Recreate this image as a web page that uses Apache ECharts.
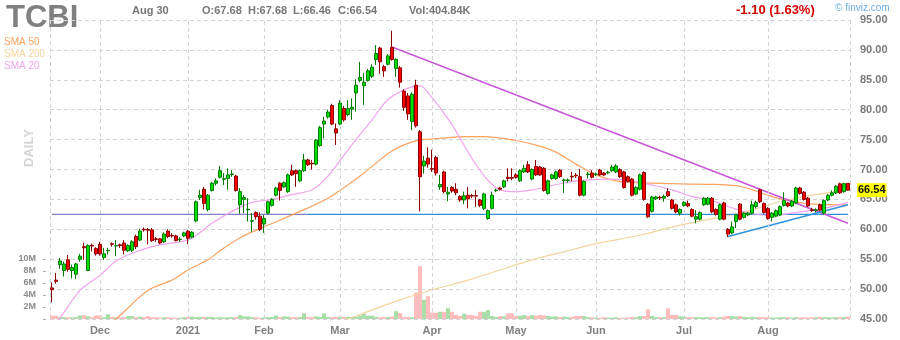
<!DOCTYPE html>
<html><head><meta charset="utf-8">
<script src="https://cdn.jsdelivr.net/npm/echarts@6/dist/echarts.min.js"></script>
<style>html,body{margin:0;padding:0;background:#fff}#c{width:900px;height:340px}</style>
</head><body><div id="c"></div><script>
const ticker = 'TCBI';
const startDate = '2020-11-12', endDate = '2021-08-30';
const holidays = ['2020-11-26','2020-12-25','2021-01-01','2021-01-18','2021-02-15','2021-04-02','2021-05-31','2021-07-05'];
const monthNames = ['Jan','Feb','Mar','Apr','May','Jun','Jul','Aug','Sep','Oct','Nov','Dec'];

const open = [50.2,51.5,54.1,53.1,54.9,53.1,52.5,55.0,57.1,53.1,
57.3,56.8,57.5,55.3,56.4,57.6,57.2,57.4,57.7,56.4,
56.5,58.8,58.2,60.0,59.95,59.9,58.4,58.4,57.9,59.7,
59.0,58.9,58.25,58.9,59.7,58.7,61.4,65.3,66.7,63.3,
66.5,67.7,68.7,68.35,68.5,69.15,68.9,64.1,65.0,63.25,
61.35,62.8,62.2,60.9,62.7,64.0,65.7,67.7,67.1,66.3,
69.8,69.8,68.1,69.8,71.6,71.05,70.9,74.0,77.6,78.8,
80.7,76.8,77.6,80.2,79.2,80.1,82.8,84.9,84.0,84.9,
85.6,88.4,90.3,87.2,87.6,90.4,86.9,87.0,83.1,82.3,
78.0,84.1,76.3,70.6,71.9,70.15,72.0,67.1,69.6,65.9,
67.0,66.7,65.5,64.9,65.7,65.65,65.65,64.9,63.5,61.8,
63.5,66.45,66.9,67.1,68.7,68.65,69.1,68.1,69.6,70.8,
68.4,70.5,70.4,70.2,66.0,68.5,68.5,69.9,68.15,68.15,
68.85,69.05,68.8,65.7,69.15,69.4,69.15,69.9,69.4,69.45,
69.8,69.6,70.0,69.6,68.8,68.4,65.9,66.7,69.5,64.2,
63.0,65.1,65.35,65.2,66.3,64.9,64.1,62.7,64.0,64.3,
63.3,61.7,61.7,64.1,64.2,65.2,63.3,61.7,64.4,60.0,
59.4,61.3,64.2,62.0,62.4,62.7,63.8,66.6,64.3,63.5,
62.0,62.2,62.4,64.0,64.4,63.9,64.4,66.9,66.2,65.2,
63.25,63.15,64.1,62.7,64.9,65.7,66.1,67.6,66.3,67.68];
const close = [49.9,51.3,54.7,54.2,53.3,53.6,54.2,55.5,56.9,57.3,
57.2,55.9,55.9,55.9,56.5,57.5,57.3,57.3,56.5,57.3,
57.9,57.1,59.7,59.9,59.85,58.1,58.3,57.7,59.2,58.8,
58.9,58.1,58.35,59.4,58.5,59.5,64.6,65.7,64.3,65.7,
67.7,68.1,69.8,68.45,69.1,69.25,66.5,66.3,65.3,63.35,
61.45,62.1,60.0,61.8,64.6,65.0,66.9,66.5,67.8,69.1,
69.1,69.3,69.8,71.6,70.8,70.95,74.9,77.0,78.1,79.6,
77.6,76.1,81.1,78.3,80.2,80.4,84.1,85.4,84.6,86.5,
87.1,89.4,88.0,86.5,89.0,88.4,88.4,84.6,80.4,79.3,
82.6,77.3,68.8,71.4,70.9,70.05,69.4,67.5,66.3,66.2,
66.4,66.1,64.9,65.6,65.1,65.55,65.55,64.0,65.9,63.1,
65.7,66.55,66.7,68.1,68.5,68.55,68.7,69.8,70.2,69.6,
70.0,69.1,69.1,66.5,68.1,69.1,69.6,68.8,68.25,68.25,
68.75,68.95,65.7,68.0,69.25,68.7,69.25,69.1,69.1,69.55,
70.4,70.6,68.8,67.0,68.0,65.7,67.0,69.1,65.0,62.1,
65.4,65.4,65.25,65.5,65.6,63.5,62.9,63.3,64.5,63.9,
62.2,62.1,62.8,65.2,65.2,62.9,62.5,64.1,61.7,59.2,
60.4,62.4,61.7,62.7,62.7,64.1,64.5,64.6,62.8,61.8,
62.7,63.1,63.8,64.8,63.9,64.7,66.9,66.0,65.0,63.9,
63.15,63.25,63.2,64.8,65.7,66.1,67.2,66.1,67.64,66.54];
const low = [47.8,50.9,53.4,52.1,52.9,51.8,51.7,54.6,54.9,53.0,
56.3,55.6,55.6,54.9,55.8,57.1,55.5,56.9,55.8,56.2,
56.2,56.7,58.0,59.6,57.5,57.9,57.9,57.5,57.7,58.5,
58.6,58.0,57.9,58.7,57.5,58.5,61.2,64.9,63.3,63.0,
66.3,67.3,68.5,67.4,66.6,68.8,66.3,62.6,62.7,61.3,
59.6,61.6,59.7,59.4,62.5,63.8,65.5,64.8,66.9,66.1,
68.9,67.1,67.9,69.6,70.6,70.0,70.7,73.8,75.2,78.5,
77.4,74.1,77.4,78.0,78.9,78.3,79.7,84.6,80.8,84.7,
85.3,87.5,86.0,85.5,87.4,88.2,85.5,83.7,79.8,78.3,
76.6,77.0,63.0,69.3,70.3,69.6,69.0,66.6,66.0,64.7,
66.1,65.7,64.6,64.2,63.5,65.2,63.8,63.7,63.2,61.6,
63.3,66.2,66.5,66.9,68.0,68.2,68.5,67.9,69.4,69.4,
68.2,68.9,68.9,66.3,65.8,68.3,68.3,68.6,66.1,67.8,
68.0,68.6,65.5,65.5,68.5,68.5,68.9,68.9,68.9,69.2,
69.6,69.4,68.6,66.8,67.8,65.5,65.7,66.5,64.8,61.9,
62.8,64.9,64.9,64.6,65.4,63.3,62.7,62.3,63.8,63.7,
62.0,61.0,61.5,63.9,64.0,62.7,62.3,61.5,61.5,58.7,
59.2,60.2,61.5,61.8,62.2,62.5,63.5,64.4,62.6,61.6,
61.3,62.0,62.2,63.8,63.7,63.7,64.2,65.8,64.8,63.7,
62.9,62.8,63.0,62.5,64.7,65.5,65.9,65.9,66.1,66.46];
const high = [51.1,52.7,55.2,54.6,55.7,54.1,54.4,55.9,57.8,57.5,
57.6,57.0,57.9,56.9,56.9,57.8,58.2,57.6,58.2,57.5,
58.2,59.1,60.1,60.3,60.2,60.2,58.7,58.5,59.5,60.0,
59.3,59.1,58.7,59.6,59.9,59.7,64.8,66.6,67.1,65.9,
67.9,68.5,70.6,69.4,70.2,69.9,69.1,66.9,65.7,65.2,
62.7,63.0,62.8,62.4,64.8,65.2,67.1,67.9,68.0,69.3,
70.8,70.0,70.0,72.6,71.8,71.6,75.1,77.3,78.8,80.0,
81.0,77.7,81.6,80.6,81.6,81.9,85.1,88.0,86.1,86.8,
87.6,90.8,90.5,87.5,89.3,93.2,88.6,87.3,83.4,82.8,
82.9,85.0,76.6,72.3,73.7,73.3,72.3,69.1,69.8,67.1,
67.2,67.7,65.7,66.3,67.1,65.9,66.6,65.1,66.1,63.3,
66.3,66.8,67.1,68.3,70.2,70.2,69.4,70.0,70.8,71.4,
70.2,71.6,70.6,70.4,68.3,69.3,69.8,70.1,68.5,68.5,
69.6,69.4,70.1,68.2,69.6,69.9,69.5,70.1,69.6,69.8,
70.8,70.9,70.2,69.8,69.0,68.6,67.2,69.3,69.7,64.4,
65.6,65.6,65.6,65.8,66.9,65.1,64.3,63.5,64.7,64.8,
63.5,63.2,63.0,65.4,65.4,65.4,63.5,64.3,64.6,60.2,
61.3,62.6,64.4,62.9,62.9,64.8,64.8,66.8,64.5,63.7,
62.9,63.3,64.0,66.2,64.6,64.9,67.1,67.1,66.4,65.4,
63.6,63.5,64.3,65.0,65.9,66.5,67.4,67.8,67.8,67.68];
// volume in millions of shares
const volume = [0.55,0.55,0.35,0.3,0.3,0.25,0.3,0.6,0.65,0.45,0.3,0.6,
0.6,0.3,0.8,0.35,0.3,0.3,0.3,0.5,0.5,0.3,0.4,0.3,0.5,0.3,0.3,0.2,0.3,0.3,0.25,0.2,0.2,0.3,
0.35,0.4,0.35,0.35,0.35,0.35,0.35,0.25,0.3,0.25,0.3,0.3,0.3,0.65,0.45,0.45,0.3,0.3,0.2,
0.3,0.3,0.35,0.6,0.35,0.45,0.4,0.3,0.3,0.35,0.95,0.35,0.3,0.45,0.35,0.95,0.35,0.3,0.35,
0.4,0.35,0.35,0.3,0.35,0.6,0.85,0.55,0.55,0.4,0.3,0.3,0.3,0.4,1.3,1.0,0.35,0.35,0.3,4.4,8.8,3.2,3.8,
1.05,1.05,1.2,1.2,1.8,1.2,0.7,0.5,0.9,0.7,0.7,0.5,1.2,1.2,1.5,0.5,0.35,0.5,0.45,0.95,0.95,
0.5,0.55,0.65,0.5,0.65,0.55,0.7,0.6,0.5,0.4,0.45,0.35,0.4,0.3,0.35,0.5,0.5,0.5,0.3,0.3,
0.25,0.2,0.3,0.25,0.2,0.3,0.2,0.2,0.25,0.35,0.3,0.5,0.5,1.6,0.5,0.3,0.3,0.3,1.8,0.7,0.7,0.45,
0.4,0.3,0.3,0.35,0.3,0.3,0.3,0.3,0.25,0.3,0.4,0.5,0.5,0.45,0.5,0.35,0.3,0.35,0.3,0.35,0.3,
0.3,0.25,0.25,0.3,0.3,0.3,0.25,0.3,0.25,0.3,0.25,0.3,0.3,0.35,0.3,0.3,0.25,0.3,0.3,0.35,0.40484];

// moving averages: [trading-day index, value]
const sma20 = [[1,44.6],[2,45.2],[7,49.8],[12,52.3],[16,54.7],[22,56.5],[27,57.4],[32,57.9],[35,58.5],[40,61.0],[45,63.0],[50,64.5],[55,65.0],[60,65.8],[65,66.6],[69,68.9],[74,73.3],[80,78.3],[84,81.7],[89,83.6],[92,84.0],[95,82.0],[100,77.5],[105,71.8],[109,68.2],[112,66.6],[116,66.3],[120,66.6],[125,67.3],[130,68.0],[135,68.3],[140,68.4],[145,68.1],[150,67.4],[155,66.6],[160,65.5],[165,64.8],[170,63.6],[175,62.6],[180,62.3],[185,62.7],[190,63.2],[195,63.8],[199,64.5]];
const sma50 = [[15,44.7],[16,45.0],[24,49.8],[30,51.5],[34,53.2],[39,54.9],[42,56.4],[47,58.6],[53,60.4],[61,62.7],[69,65.2],[77,68.9],[85,73.1],[91,74.8],[97,75.2],[103,75.5],[108,75.5],[116,74.85],[122,73.9],[126,72.9],[131,70.9],[136,69.1],[141,68.1],[146,67.8],[157,67.6],[166,67.5],[172,67.2],[179,65.7],[182,65.1],[189,64.3],[199,64.1]];
const sma200 = [[73,44.7],[74,45.0],[87,48.2],[95,49.85],[104,51.5],[112,53.2],[120,54.9],[129,56.4],[136,57.6],[147,59.0],[157,60.7],[172,62.7],[182,64.6],[189,65.6],[199,66.6]];
const downTrend = [[85,90.5],[199,61.0]];
const upTrend = [[169,58.8],[199,64.1]];
const supportLevel = 62.5;
const supportSplit = 64; // level line looks violet left of this trading-day index, blue right of it
const priceMin = 45, priceMax = 95, priceStep = 5;
const volMax = 10, volStep = 2;
const changeText = '-1.10 (1.63%)';
const volText = 'Vol:404.84K';

function tradingDays(s, e, hol) {
  const out = []; const d = new Date(s + 'T00:00:00Z'); const end = new Date(e + 'T00:00:00Z');
  while (d <= end) {
    const wd = d.getUTCDay(); const str = d.toISOString().slice(0, 10);
    if (wd !== 0 && wd !== 6 && hol.indexOf(str) < 0) out.push(str);
    d.setUTCDate(d.getUTCDate() + 1);
  }
  return out;
}
const dates = tradingDays(startDate, endDate, holidays);
const monthLabel = {};
dates.forEach((s, i) => {
  if (i === 0) return;
  if (s.slice(5, 7) !== dates[i - 1].slice(5, 7)) {
    const m = +s.slice(5, 7) - 1;
    monthLabel[i] = m === 0 ? s.slice(0, 4) : monthNames[m];
  }
});
const monthIdx = Object.keys(monthLabel).map(Number);

const candles = dates.map((d, i) => [open[i], close[i], low[i], high[i]]);
const volData = dates.map((d, i) => ({
  value: volume[i],
  itemStyle: { color: close[i] >= open[i] ? '#a9dea9' : '#ffbdbd' }
}));
const last = dates.length - 1;
const lastDate = new Date(dates[last] + 'T00:00:00Z');
const headerDate = monthNames[lastDate.getUTCMonth()] + ' ' + lastDate.getUTCDate();

const FONT = 'Arial, "Liberation Sans", sans-serif';
const gridLine = { color: '#d4d4d4', type: [4, 3], width: 1 };

const chart = echarts.init(document.getElementById('c'));
chart.setOption({
  animation: false,
  backgroundColor: '#fff',
  textStyle: { fontFamily: FONT },
  grid: [
    { left: 50, right: 50, top: 20, bottom: 21 },
    { left: 50, right: 50, top: 259, bottom: 21 }
  ],
  xAxis: [
    { type: 'category', gridIndex: 0, data: dates, boundaryGap: true,
      axisLine: { show: false }, axisTick: { show: false }, axisLabel: { show: false }, splitLine: { show: false } },
    { type: 'category', gridIndex: 1, data: dates, boundaryGap: true,
      axisLine: { show: false }, axisTick: { show: false }, splitLine: { show: false },
      axisLabel: { interval: (i) => monthLabel[i] !== undefined, formatter: (v, i) => monthLabel[i] || '',
        color: '#808080', fontSize: 11, fontWeight: 'bold', margin: 6, fontFamily: FONT } },
    { type: 'value', gridIndex: 0, min: 0, max: 1, interval: 1, position: 'top',
      axisLine: { show: false }, axisTick: { show: false }, axisLabel: { show: false },
      splitLine: { show: true, lineStyle: gridLine } }
  ],
  yAxis: [
    { type: 'value', gridIndex: 0, position: 'right', min: priceMin, max: priceMax, interval: priceStep,
      axisLine: { show: false }, axisTick: { show: false },
      axisLabel: { formatter: (v) => v.toFixed(2), color: '#7a7a7a', fontSize: 11, fontWeight: 'bold', margin: 10, fontFamily: FONT },
      splitLine: { show: true, lineStyle: gridLine } },
    { type: 'value', gridIndex: 1, position: 'left', min: 0, max: volMax, interval: volStep, offset: 4,
      axisLine: { show: false }, axisTick: { show: true, length: 3, lineStyle: { color: '#aaa' } },
      axisLabel: { formatter: (v) => v ? v + 'M' : '', color: '#8a8a8a', fontSize: 9, fontWeight: 'bold', margin: 10, fontFamily: FONT },
      splitLine: { show: false } }
  ],
  series: [
    { name: 'Volume', type: 'bar', xAxisIndex: 1, yAxisIndex: 1, data: volData,
      barCategoryGap: '0%', z: 1, silent: true },
    { name: 'SMA 200', type: 'line', xAxisIndex: 0, yAxisIndex: 0, data: sma200, z: 2,
      showSymbol: false, smooth: 0.3, lineStyle: { color: '#f3d49c', width: 1.2 }, silent: true,
      markLine: { silent: true, symbol: 'none', label: { show: false },
        data: monthIdx.map((i) => ({ xAxis: dates[i], lineStyle: gridLine })) } },
    { name: 'Level left', type: 'line', xAxisIndex: 0, yAxisIndex: 0, z: 2, showSymbol: false, silent: true,
      data: [[0, supportLevel], [supportSplit, supportLevel]],
      lineStyle: { color: '#7f80c8', width: 1.3 } },
    { name: 'Level right', type: 'line', xAxisIndex: 0, yAxisIndex: 0, z: 2, showSymbol: false, silent: true,
      data: [[supportSplit, supportLevel], [last, supportLevel]],
      lineStyle: { color: '#2e8fd6', width: 1.3 } },
    { name: 'SMA 50', type: 'line', xAxisIndex: 0, yAxisIndex: 0, data: sma50, z: 3,
      showSymbol: false, smooth: 0.3, lineStyle: { color: '#ffa260', width: 1.2 }, silent: true },
    { name: 'SMA 20', type: 'line', xAxisIndex: 0, yAxisIndex: 0, data: sma20, z: 3,
      showSymbol: false, smooth: 0.3, lineStyle: { color: '#f1a3ef', width: 1.2 }, silent: true },
    { name: 'Down trend', type: 'line', xAxisIndex: 0, yAxisIndex: 0, data: downTrend, z: 4,
      showSymbol: false, lineStyle: { color: '#c757d8', width: 1.6 }, silent: true },
    { name: 'Up trend', type: 'line', xAxisIndex: 0, yAxisIndex: 0, data: upTrend, z: 4,
      showSymbol: false, lineStyle: { color: '#2d95dc', width: 1.6 }, silent: true },
    { name: ticker, type: 'candlestick', xAxisIndex: 0, yAxisIndex: 0, data: candles, z: 5,
      barWidth: 3, silent: true,
      itemStyle: { color: '#00e000', color0: '#ff0000', borderColor: '#007a00', borderColor0: '#8b0000', borderWidth: 1 },
      markLine: { silent: true, symbol: 'none',
        data: [{ yAxis: close[last], lineStyle: { width: 0, color: 'rgba(0,0,0,0)' },
          label: { show: true, position: 'end', distance: 7, formatter: close[last].toFixed(2),
            backgroundColor: '#ffff00', color: '#111', fontWeight: 'bold', fontSize: 11, padding: [2, 1, 1, 1], fontFamily: FONT, opacity: 1 } }] } }
  ],
  graphic: [
    { type: 'text', x: 6, y: 18, silent: true, style: { text: ticker, font: 'bold 31px ' + FONT, fill: '#808080', verticalAlign: 'middle' } },
    { type: 'text', x: 132, y: 11, silent: true, style: { text: headerDate, font: 'bold 11px ' + FONT, fill: '#777', verticalAlign: 'middle' } },
    { type: 'text', x: 202, y: 11, silent: true, style: { text: 'O:' + open[last].toFixed(2), font: 'bold 11px ' + FONT, fill: '#777', verticalAlign: 'middle' } },
    { type: 'text', x: 248, y: 11, silent: true, style: { text: 'H:' + high[last].toFixed(2), font: 'bold 11px ' + FONT, fill: '#777', verticalAlign: 'middle' } },
    { type: 'text', x: 293, y: 11, silent: true, style: { text: 'L:' + low[last].toFixed(2), font: 'bold 11px ' + FONT, fill: '#777', verticalAlign: 'middle' } },
    { type: 'text', x: 338, y: 11, silent: true, style: { text: 'C:' + close[last].toFixed(2), font: 'bold 11px ' + FONT, fill: '#777', verticalAlign: 'middle' } },
    { type: 'text', x: 409, y: 11, silent: true, style: { text: volText, font: 'bold 11px ' + FONT, fill: '#777', verticalAlign: 'middle' } },
    { type: 'text', x: 736, y: 10, silent: true, style: { text: changeText, font: 'bold 13px ' + FONT, fill: '#d40000', verticalAlign: 'middle' } },
    { type: 'text', x: 835, y: 8, silent: true, style: { text: '\u00a9 finviz.com', font: '10px ' + FONT, fill: '#6eaee6', verticalAlign: 'middle' } },
    { type: 'text', x: 4, y: 42, silent: true, style: { text: 'SMA 50', font: '10px ' + FONT, fill: '#ffa260', verticalAlign: 'middle' } },
    { type: 'text', x: 4, y: 54, silent: true, style: { text: 'SMA 200', font: '10px ' + FONT, fill: '#f3d49c', verticalAlign: 'middle' } },
    { type: 'text', x: 4, y: 66, silent: true, style: { text: 'SMA 20', font: '10px ' + FONT, fill: '#f1a3ef', verticalAlign: 'middle' } },
    { type: 'text', x: 29, y: 148, rotation: Math.PI / 2, silent: true, style: { text: 'DAILY', font: 'bold 13px ' + FONT, fill: '#d4d4d4', align: 'center', verticalAlign: 'middle' } }
  ]
});
</script></body></html>
